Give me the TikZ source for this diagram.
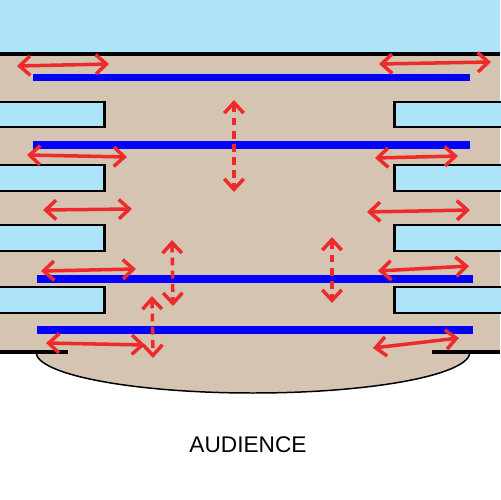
\documentclass[tikz,border=0pt]{standalone}
\usepackage{fontspec}
\setmainfont{Liberation Sans}
\usepackage{tikz}
\usetikzlibrary{arrows.meta}

\definecolor{skyblue}{RGB}{173,228,250}
\definecolor{stagebeige}{RGB}{214,196,178}
\definecolor{wavered}{RGB}{238,42,42}

\tikzset{
  wall/.style={fill=skyblue, draw=black, line width=1.7pt},
  border/.style={black, line width=2.5pt},
  pipe/.style={blue, line width=4.5pt},
  wave/.style={wavered, line width=2pt, line cap=round,
    {Straight Barb[length=6pt,width=11pt]}-{Straight Barb[length=6pt,width=11pt]}},
  vwave/.style={wave, dash pattern=on 4.5pt off 3pt, line cap=butt}
}

\begin{document}
\begin{tikzpicture}[x=0.02cm, y=-0.02cm]
    \useasboundingbox (0,0) rectangle (500,500);
    % sky and stage
    \fill[skyblue] (0,0) rectangle (500,54);
    \draw[fill=stagebeige, line width=0.85pt] (253,352) ellipse (217 and 41);
    \fill[stagebeige] (0,54) rectangle (500,352);
    \draw[border] (0,54) -- (500,54);
    \draw[border] (0,352) -- (68,352);
    \draw[border] (432,352) -- (500,352);
    % side boxes
    \begin{scope}
    \foreach \ya/\yb in {102/127, 165/191, 225/251, 287/313} {
      \draw[wall] (-5,\ya) rectangle (104.5,\yb);
      \draw[wall] (394.5,\ya) rectangle (505,\yb);
    }
    \end{scope}
    % blue bars
    \draw[pipe] (33,77.5) -- (470,77.5);
    \draw[pipe] (33,145) -- (470,145);
    \draw[pipe] (37,279) -- (473,279);
    \draw[pipe] (37,330) -- (473,330);
    % horizontal waves
    \draw[wave] (17,66) -- (109,64);
    \draw[wave] (379,64) -- (491,62);
    \draw[wave] (27,155) -- (127,157);
    \draw[wave] (375,158) -- (458,156);
    \draw[wave] (43,210) -- (132,209);
    \draw[wave] (367,212) -- (470,210);
    \draw[wave] (41,271) -- (136,269);
    \draw[wave] (378,271) -- (469,266);
    \draw[wave] (46,343) -- (145,345);
    \draw[wave] (373,348) -- (459,338);
    % vertical waves
    \draw[vwave] (234,100) -- (234,192);
    \draw[vwave] (172,240) -- (173,306);
    \draw[vwave] (152,296) -- (153,358);
    \draw[vwave] (332,237) -- (332,303);
    \node[font=\fontsize{12.9}{15}\selectfont] (aud) at (248,445) {AUDIENCE};
\end{tikzpicture}
\end{document}
